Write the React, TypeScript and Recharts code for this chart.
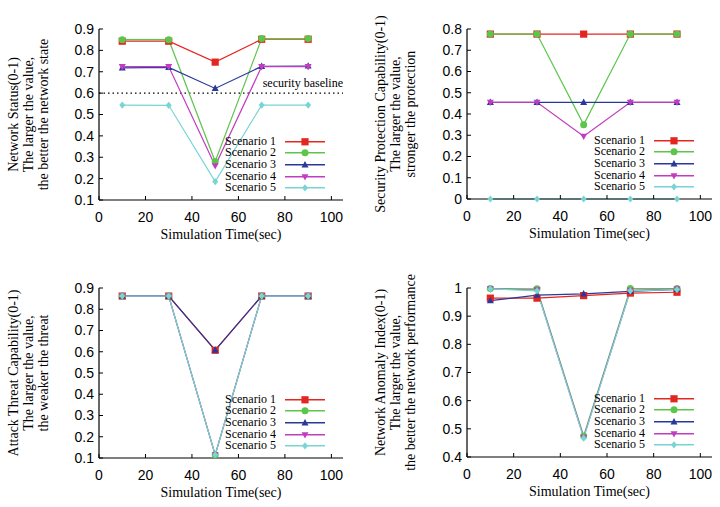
import { LineChart, Line, XAxis, YAxis, ReferenceLine, Legend } from "recharts";

const TIMES = [10, 30, 50, 70, 90];
const SCENARIOS = ["Scenario 1", "Scenario 2", "Scenario 3", "Scenario 4", "Scenario 5"];
const X_TICKS = [0, 20, 40, 60, 80, 100];

// Security Status Curve
const STATUS_S1 = [0.843, 0.843, 0.745, 0.852, 0.852];
const STATUS_S2 = [0.85, 0.85, 0.28, 0.855, 0.855];
const STATUS_S3 = [0.718, 0.72, 0.622, 0.725, 0.727];
const STATUS_S4 = [0.724, 0.724, 0.26, 0.724, 0.724];
const STATUS_S5 = [0.544, 0.543, 0.186, 0.544, 0.544];
const STATUS_TICKS = [0.1, 0.2, 0.3, 0.4, 0.5, 0.6, 0.7, 0.8, 0.9];
const SECURITY_BASELINE = 0.6;

// Security Protection Capability Curve
const PROTECT_S1 = [0.776, 0.776, 0.776, 0.776, 0.776];
const PROTECT_S2 = [0.776, 0.776, 0.35, 0.776, 0.776];
const PROTECT_S3 = [0.455, 0.455, 0.455, 0.455, 0.455];
const PROTECT_S4 = [0.455, 0.455, 0.295, 0.455, 0.455];
const PROTECT_S5 = [0, 0, 0, 0, 0];
const PROTECT_TICKS = [0, 0.1, 0.2, 0.3, 0.4, 0.5, 0.6, 0.7, 0.8];

// Attack Threat Capability Curve
const THREAT_S1 = [0.862, 0.862, 0.607, 0.862, 0.862];
const THREAT_S2 = [0.862, 0.862, 0.115, 0.862, 0.862];
const THREAT_S3 = [0.862, 0.862, 0.608, 0.862, 0.862];
const THREAT_S4 = [0.862, 0.862, 0.115, 0.862, 0.862];
const THREAT_S5 = [0.862, 0.862, 0.115, 0.862, 0.862];
const THREAT_TICKS = [0.1, 0.2, 0.3, 0.4, 0.5, 0.6, 0.7, 0.8, 0.9];

// Network Performance Anomaly Index Curve
const ANOMALY_S1 = [0.964, 0.964, 0.973, 0.982, 0.985];
const ANOMALY_S2 = [0.998, 0.997, 0.475, 0.998, 0.998];
const ANOMALY_S3 = [0.955, 0.975, 0.979, 0.988, 0.995];
const ANOMALY_S4 = [0.997, 0.993, 0.47, 0.992, 0.996];
const ANOMALY_S5 = [0.997, 0.99, 0.467, 0.99, 0.994];
const ANOMALY_TICKS = [0.4, 0.5, 0.6, 0.7, 0.8, 0.9, 1];

const COLORS = ["#e3261f", "#5cc64a", "#28399b", "#c23cc0", "#79d4d4"];
const SHAPES = ["square", "circle", "up", "down", "diamond"];

const W = 360;
const H = 253;
const SERIF = "Liberation Serif";
const SANS = "Liberation Sans";

function Marker({ shape, cx, cy, color }: { shape: string; cx?: number; cy?: number; color: string }) {
  if (cx == null || cy == null) return <g />;
  if (shape === "square") return <rect x={cx - 3.6} y={cy - 3.6} width={7.2} height={7.2} fill={color} />;
  if (shape === "circle") return <circle cx={cx} cy={cy} r={3.5} fill={color} />;
  if (shape === "up")
    return <polygon points={`${cx},${cy - 3.8} ${cx + 3.5},${cy + 2.6} ${cx - 3.5},${cy + 2.6}`} fill={color} />;
  if (shape === "down")
    return <polygon points={`${cx},${cy + 3.8} ${cx + 3.5},${cy - 2.6} ${cx - 3.5},${cy - 2.6}`} fill={color} />;
  return <polygon points={`${cx},${cy - 3.6} ${cx + 3},${cy} ${cx},${cy + 3.6} ${cx - 3},${cy}`} fill={color} />;
}

function fmtY(v: number) {
  if (v === 0) return "0";
  if (v === 1) return "1";
  return v.toFixed(1);
}

function LegendBox() {
  return (
    <div style={{ fontFamily: SERIF, fontSize: 12, lineHeight: "11.6px", color: "#000" }}>
      {SCENARIOS.map((name, i) => (
        <div key={name} style={{ display: "flex", alignItems: "center", height: 11.6 }}>
          <span style={{ width: 70, textAlign: "right", whiteSpace: "nowrap" }}>{name}</span>
          <svg width={49} height={11.6} style={{ display: "block" }}>
            <line x1={9} x2={49} y1={5.8} y2={5.8} stroke={COLORS[i]} strokeWidth={1.5} />
            <Marker shape={SHAPES[i]} cx={29} cy={5.8} color={COLORS[i]} />
          </svg>
        </div>
      ))}
    </div>
  );
}

interface PanelProps {
  title: string;
  yLabel: string[];
  yLabelX: number[];
  values: number[][];
  yDomain: [number, number];
  yTicks: number[];
  plotLeft: number;
  plotRight: number;
  plotTop: number;
  plotBottom: number;
  baseline?: number;
}

function Panel(p: PanelProps) {
  const data = TIMES.map((t, i) => {
    const row: Record<string, number> = { t };
    p.values.forEach((s, k) => (row[`s${k}`] = s[i]));
    return row;
  });
  const cx = (p.plotLeft + p.plotRight) / 2;
  const cy = (p.plotTop + p.plotBottom) / 2;
  const legendLeft = p.plotRight - 18 - 119;
  const legendTop = p.plotBottom - 12 - 4 * 11.6 - 5.8;
  const axisLine = { stroke: "#000", strokeWidth: 1.2 };
  const tickStyle = { fontFamily: SANS, fontSize: 14, fill: "#000" };

  return (
    <LineChart
      width={W}
      height={H}
      data={data}
      margin={{ top: p.plotTop, right: W - p.plotRight, bottom: 0, left: 0 }}
    >
      <XAxis
        dataKey="t"
        type="number"
        domain={[0, 105]}
        ticks={X_TICKS}
        height={H - p.plotBottom}
        axisLine={axisLine}
        tickLine={{ stroke: "#000" }}
        tickSize={-4}
        tickMargin={16}
        tick={tickStyle}
        label={{
          content: () => (
            <text x={cx} y={p.plotBottom + 39} textAnchor="middle" fontFamily={SERIF} fontSize={14} fill="#000">
              Simulation Time(sec)
            </text>
          ),
        }}
      />
      <XAxis
        xAxisId="top"
        orientation="top"
        type="number"
        domain={[0, 105]}
        ticks={X_TICKS}
        height={0}
        axisLine={axisLine}
        tickLine={{ stroke: "#000" }}
        tickSize={-4}
        tick={() => <g />}
        label={{
          content: () => (
            <text x={cx} y={p.plotTop - 15} textAnchor="middle" fontFamily={SERIF} fontSize={14} fill="#000">
              {p.title}
            </text>
          ),
        }}
      />
      <YAxis
        type="number"
        domain={p.yDomain}
        ticks={p.yTicks}
        width={p.plotLeft}
        axisLine={axisLine}
        tickLine={{ stroke: "#000" }}
        tickSize={-4}
        tickMargin={9}
        tick={tickStyle}
        tickFormatter={fmtY}
        label={{
          content: () => (
            <g>
              {p.yLabel.map((line, i) => (
                <text
                  key={i}
                  x={p.yLabelX[i]}
                  y={cy}
                  transform={`rotate(-90 ${p.yLabelX[i]} ${cy})`}
                  textAnchor="middle"
                  fontFamily={SERIF}
                  fontSize={14}
                  fill="#000"
                >
                  {line}
                </text>
              ))}
            </g>
          ),
        }}
      />
      <YAxis
        yAxisId="right"
        orientation="right"
        type="number"
        domain={p.yDomain}
        ticks={p.yTicks}
        width={0}
        axisLine={axisLine}
        tickLine={{ stroke: "#000" }}
        tickSize={-4}
        tick={() => <g />}
      />
      {p.baseline != null && (
        <ReferenceLine
          y={p.baseline}
          stroke="#000"
          strokeWidth={1.2}
          strokeDasharray="1.5 3"
          label={{
            content: (lp: any) => (
              <text
                x={lp.viewBox.x + lp.viewBox.width}
                y={lp.viewBox.y - 6}
                textAnchor="end"
                fontFamily={SERIF}
                fontSize={12}
                fill="#000"
              >
                security baseline
              </text>
            ),
          }}
        />
      )}
      <Legend
        layout="vertical"
        align="center"
        verticalAlign="middle"
        content={() => <LegendBox />}
        wrapperStyle={{ left: legendLeft, top: legendTop, width: 119, height: 58, right: "auto", bottom: "auto" }}
      />
      {p.values.map((_, k) => (
        <Line
          key={k}
          dataKey={`s${k}`}
          name={SCENARIOS[k]}
          stroke={COLORS[k]}
          strokeWidth={1.2}
          isAnimationActive={false}
          dot={(d: any) => (
            <Marker key={`m${k}-${d.index}`} shape={SHAPES[k]} cx={d.cx} cy={d.cy} color={COLORS[k]} />
          )}
          activeDot={false}
        />
      ))}
    </LineChart>
  );
}

export default function App() {
  return (
    <div style={{ position: "absolute", left: 0, top: 0, width: 720, height: 507, background: "#fff" }}>
      <div style={{ position: "absolute", left: 0, top: 0 }}>
        <Panel
          title="Security Status Curve"
          yLabel={["Network Status(0-1)", "The larger the value,", "the better the network state"]}
          yLabelX={[18, 33, 48]}
          values={[STATUS_S1, STATUS_S2, STATUS_S3, STATUS_S4, STATUS_S5]}
          yDomain={[0.1, 0.9]}
          yTicks={STATUS_TICKS}
          plotLeft={99}
          plotRight={343}
          plotTop={29}
          plotBottom={200}
          baseline={SECURITY_BASELINE}
        />
      </div>
      <div style={{ position: "absolute", left: 360, top: 0 }}>
        <Panel
          title="Security Protection Capability Curve"
          yLabel={["Security Protection Capability(0-1)", "The larger the value,", "stronger the protection"]}
          yLabelX={[25, 40, 55]}
          values={[PROTECT_S1, PROTECT_S2, PROTECT_S3, PROTECT_S4, PROTECT_S5]}
          yDomain={[0, 0.8]}
          yTicks={PROTECT_TICKS}
          plotLeft={107}
          plotRight={352}
          plotTop={29}
          plotBottom={199}
        />
      </div>
      <div style={{ position: "absolute", left: 0, top: 254 }}>
        <Panel
          title="Attack Threat Capability Curve"
          yLabel={["Attack Threat Capability(0-1)", "The larger the value,", "the weaker the threat"]}
          yLabelX={[18, 33, 48]}
          values={[THREAT_S1, THREAT_S2, THREAT_S3, THREAT_S4, THREAT_S5]}
          yDomain={[0.1, 0.9]}
          yTicks={THREAT_TICKS}
          plotLeft={99}
          plotRight={343}
          plotTop={34}
          plotBottom={204}
        />
      </div>
      <div style={{ position: "absolute", left: 360, top: 254 }}>
        <Panel
          title="Network Performance Anomaly Index Curve"
          yLabel={["Network Anomaly Index(0-1)", "The larger the value,", "the better the network performance"]}
          yLabelX={[25, 40, 55]}
          values={[ANOMALY_S1, ANOMALY_S2, ANOMALY_S3, ANOMALY_S4, ANOMALY_S5]}
          yDomain={[0.4, 1]}
          yTicks={ANOMALY_TICKS}
          plotLeft={107}
          plotRight={352}
          plotTop={34}
          plotBottom={203}
        />
      </div>
    </div>
  );
}
